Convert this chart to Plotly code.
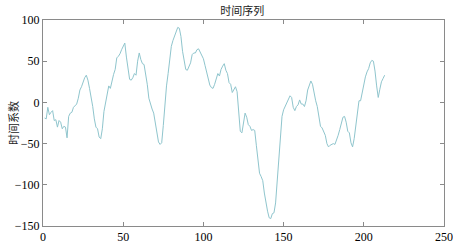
import plotly.graph_objects as go

title_text = "时间序列"
y_label = "时间系数"

values = [
    -19, -20, -6, -15, -12, -10, -22, -21, -30, -22,
    -24, -32, -29, -30, -43, -17, -13, -12, -6, -4,
    -2, 5, 15, 19, 25, 30, 33, 27, 17, 7,
    -5, -20, -30, -32, -42, -44, -32, -11, 0, 12,
    20, 17, 27, 34, 40, 54, 56, 59, 64, 68,
    72, 55, 38, 28, 27, 30, 35, 33, 50, 60,
    52, 47, 46, 36, 22, 5, -3, -8, -13, -24,
    -38, -48, -51, -49, -28, 0, 20, 35, 52, 68,
    75, 80, 86, 91, 90, 80, 62, 48, 40, 39,
    44, 48, 58, 60, 60, 64, 65, 61, 59, 53,
    45, 37, 30, 21, 18, 17, 22, 30, 35, 32,
    40, 44, 47, 39, 35, 24, 22, 12, 15, 19,
    13, -10, -35, -37, -26, -13, -18, -27, -29, -34,
    -33, -34, -52, -74, -86, -90, -95, -110, -122, -132,
    -140, -141, -135, -134, -122, -95, -65, -38, -17, -9,
    -5, -2, 4, 8, 6, -6, -10, -5, -3, 3,
    -2, -2, -5, 2, 15, 22, 26, 22, 10, 2,
    -5, -20, -29, -31, -35, -40, -50, -54, -52, -51,
    -50, -51, -46, -40, -33, -26, -18, -17, -24, -35,
    -37, -49, -54, -44, -28, -10, 2, 2, 13, 22,
    31, 37, 41, 48, 51, 50, 38, 20, 6, 16,
    25, 29, 33,
]
x_index = list(range(1, len(values) + 1))

x_ticks = [0, 50, 100, 150, 200, 250]
y_ticks = [-150, -100, -50, 0, 50, 100]

fig = go.Figure()
fig.add_trace(go.Scatter(
    x=x_index, y=values, mode="lines",
    line=dict(color="#8fc5cd", width=1),
    showlegend=False, hoverinfo="skip",
))

axis_common = dict(
    showgrid=False, zeroline=False, automargin=False,
    showline=True, linecolor="#8a8a8a", linewidth=1,
    mirror="ticks", ticks="inside", ticklen=4, tickcolor="#8a8a8a",
    tickfont=dict(family="Liberation Serif", size=12, color="black"),
)

fig.update_layout(
    width=453, height=245,
    margin=dict(l=43, r=9, t=20, b=19),
    paper_bgcolor="white", plot_bgcolor="white",
    title=dict(text=title_text, x=0.535, xanchor="center", y=0.955, yanchor="middle",
               font=dict(family="Noto Sans CJK SC", size=11, color="#222222")),
    xaxis=dict(range=[0, 250], tickvals=x_ticks, ticklabelstandoff=0, **axis_common),
    yaxis=dict(range=[-150, 100], tickvals=y_ticks, **axis_common),
    annotations=[dict(
        text=y_label, xref="paper", yref="paper", x=-0.075, y=0.5,
        xanchor="center", yanchor="middle", textangle=-90, showarrow=False,
        font=dict(family="Noto Sans CJK SC", size=11, color="#222222"),
    )],
)

fig.write_html(
    "out.html",
    config={"displayModeBar": False, "staticPlot": True},
    post_script="document.body.style.margin='0';document.body.style.overflow='hidden';",
)
